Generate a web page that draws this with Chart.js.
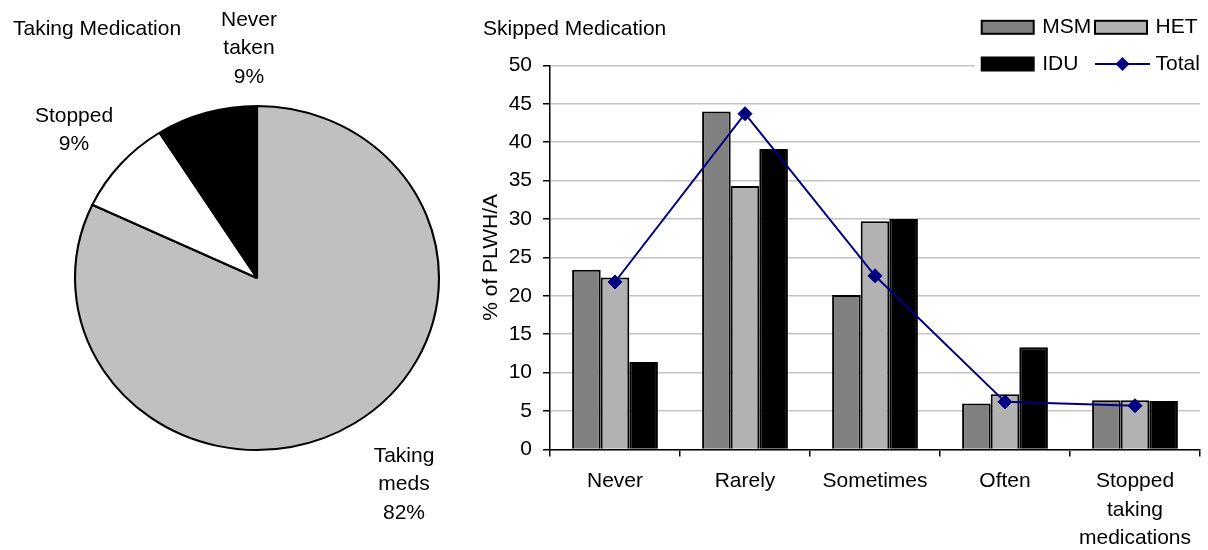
<!DOCTYPE html>
<html>
<head>
<meta charset="utf-8">
<script src="https://cdn.jsdelivr.net/npm/chart.js@4.4.1/dist/chart.umd.min.js"></script>
<style>
  html, body { margin: 0; padding: 0; background: #fff; }
  #wrap { position: relative; width: 1208px; height: 550px; overflow: hidden; }
  #pieBox { position: absolute; left: 0; top: 0; width: 475px; height: 550px; }
  #barBox { position: absolute; left: 475px; top: 0; width: 733px; height: 550px; }
</style>
</head>
<body>
<div id="wrap">
  <div id="pieBox"><canvas id="pieChart"></canvas></div>
  <div id="barBox"><canvas id="barChart"></canvas></div>
</div>
<script>
var FONT = "'Liberation Sans', Arial, sans-serif";
var FSIZE = 21;

// left: Taking Medication
var pieLabels = ["Taking meds", "Stopped", "Never taken"];
var pieValues = [82, 9, 9];

// right: Skipped Medication
var skipCategories = ["Never", "Rarely", "Sometimes", "Often", ["Stopped", "taking", "medications"]];
var msmValues = [23.4, 44.0, 20.1, 6.0, 6.4];
var hetValues = [22.4, 34.3, 29.7, 7.2, 6.4];
var iduValues = [11.4, 39.1, 30.0, 13.3, 6.3];
var totalValues = [21.8, 43.7, 22.6, 6.2, 5.7];
var yMin = 0, yMax = 50, yStep = 5;

Chart.defaults.font.family = FONT;
Chart.defaults.font.size = FSIZE;
Chart.defaults.color = "#000";

// the original pie is a little wider than it is tall
var pieStretch = 1.058;
var pieStretchPlugin = {
  id: "pieStretch",
  beforeDatasetsDraw: function (chart) {
    var arc = chart.getDatasetMeta(0).data[0];
    var ctx = chart.ctx;
    ctx.save();
    ctx.translate(arc.x, arc.y);
    ctx.scale(pieStretch, 1);
    ctx.translate(-arc.x, -arc.y);
  },
  afterDatasetsDraw: function (chart) {
    chart.ctx.restore();
  }
};

// label spots (first line) for each slice
var pieLabelSpots = [
  { x: 404, y: 456 },
  { x: 74, y: 116 },
  { x: 249, y: 20 }
];
var lineGap = 28.5;

var pieLabelPlugin = {
  id: "pieText",
  afterDraw: function (chart) {
    var ctx = chart.ctx;
    ctx.save();
    ctx.fillStyle = "#000";
    ctx.font = FSIZE + "px " + FONT;
    ctx.textBaseline = "middle";
    ctx.textAlign = "left";
    ctx.fillText("Taking Medication", 13, 29);
    ctx.textAlign = "center";
    var data = chart.data.datasets[0].data;
    chart.data.labels.forEach(function (lab, i) {
      var lines = lab.split(" ").concat([data[i] + "%"]);
      var spot = pieLabelSpots[i];
      lines.forEach(function (t, j) {
        ctx.fillText(t, spot.x, spot.y + j * lineGap);
      });
    });
    ctx.restore();
  }
};

var pieChart = new Chart(document.getElementById("pieChart"), {
  type: "pie",
  data: {
    labels: pieLabels,
    datasets: [{
      data: pieValues,
      backgroundColor: ["#c0c0c0", "#ffffff", "#000000"],
      borderColor: "#000",
      borderWidth: 2,
      radius: 172
    }]
  },
  options: {
    responsive: true,
    maintainAspectRatio: false,
    animation: false,
    layout: { padding: { left: 39, right: 0, top: 6, bottom: 0 } },
    plugins: { legend: { display: false }, tooltip: { enabled: false } }
  },
  plugins: [pieStretchPlugin, pieLabelPlugin]
});

var barLegendPlugin = {
  id: "barLegend",
  afterDraw: function (chart) {
    var ctx = chart.ctx;
    ctx.save();
    ctx.fillStyle = "#000";
    ctx.font = FSIZE + "px " + FONT;
    ctx.textBaseline = "middle";
    ctx.textAlign = "left";
    ctx.fillText("Skipped Medication", 8, 29);

    ctx.fillStyle = "#fff";
    ctx.fillRect(500, 8, chart.width - 500, 74);
    chart.data.datasets.forEach(function (ds, i) {
      var bx = 506.7 + (i % 2) * 113.3;
      var cy = 27.3 + Math.floor(i / 2) * 36.7;
      if (ds.type === "line") {
        ctx.strokeStyle = ds.borderColor;
        ctx.lineWidth = 2;
        ctx.beginPath();
        ctx.moveTo(bx, cy);
        ctx.lineTo(bx + 55, cy);
        ctx.stroke();
        ctx.fillStyle = ds.backgroundColor;
        var mx = bx + 27.5, r = 7;
        ctx.beginPath();
        ctx.moveTo(mx, cy - r);
        ctx.lineTo(mx + r, cy);
        ctx.lineTo(mx, cy + r);
        ctx.lineTo(mx - r, cy);
        ctx.closePath();
        ctx.fill();
      } else {
        ctx.fillStyle = ds.backgroundColor;
        ctx.fillRect(bx, cy - 6.5, 52, 13);
        ctx.strokeStyle = "#000";
        ctx.lineWidth = 2;
        ctx.strokeRect(bx, cy - 6.5, 52, 13);
      }
      ctx.fillStyle = "#000";
      ctx.fillText(ds.label, bx + 60.5, cy);
    });
    ctx.restore();
  }
};

var barStyle = { borderColor: "#000", borderWidth: 2, order: 1 };

var barChart = new Chart(document.getElementById("barChart"), {
  type: "bar",
  data: {
    labels: skipCategories,
    datasets: [
      Object.assign({ label: "MSM", data: msmValues, backgroundColor: "#808080" }, barStyle),
      Object.assign({ label: "HET", data: hetValues, backgroundColor: "#b2b2b2" }, barStyle),
      Object.assign({ label: "IDU", data: iduValues, backgroundColor: "#000000" }, barStyle),
      {
        type: "line",
        label: "Total",
        data: totalValues,
        borderColor: "#000080",
        backgroundColor: "#000080",
        borderWidth: 2,
        pointStyle: "rectRot",
        pointRadius: 7,
        pointBorderWidth: 1,
        tension: 0,
        order: 0
      }
    ]
  },
  options: {
    responsive: true,
    maintainAspectRatio: false,
    animation: false,
    layout: { padding: { top: 65.3, right: 4.5, left: 0, bottom: 0 } },
    datasets: { bar: { categoryPercentage: 0.66, barPercentage: 1.0 } },
    plugins: { legend: { display: false }, tooltip: { enabled: false } },
    scales: {
      x: {
        offset: true,
        grid: { drawOnChartArea: false, tickLength: 7, tickColor: "#000", offset: true, lineWidth: 1.5 },
        border: { color: "#000", width: 1.5 },
        ticks: { color: "#000", font: { size: FSIZE, lineHeight: 1.36 }, padding: 10.5, maxRotation: 0, autoSkip: false },
        afterFit: function (s) { s.height = 100.5; }
      },
      y: {
        min: yMin,
        max: yMax,
        ticks: { stepSize: yStep, color: "#000", padding: 11 },
        grid: { color: "#c4c4c4", lineWidth: 1.5, tickColor: "#000", tickLength: 7 },
        border: { color: "#000", width: 1.5 },
        title: { display: true, text: "% of PLWH/A", color: "#000", padding: { top: 4, bottom: 0 } },
        afterFit: function (s) { s.width = 75; }
      }
    }
  },
  plugins: [barLegendPlugin]
});
</script>
</body>
</html>
